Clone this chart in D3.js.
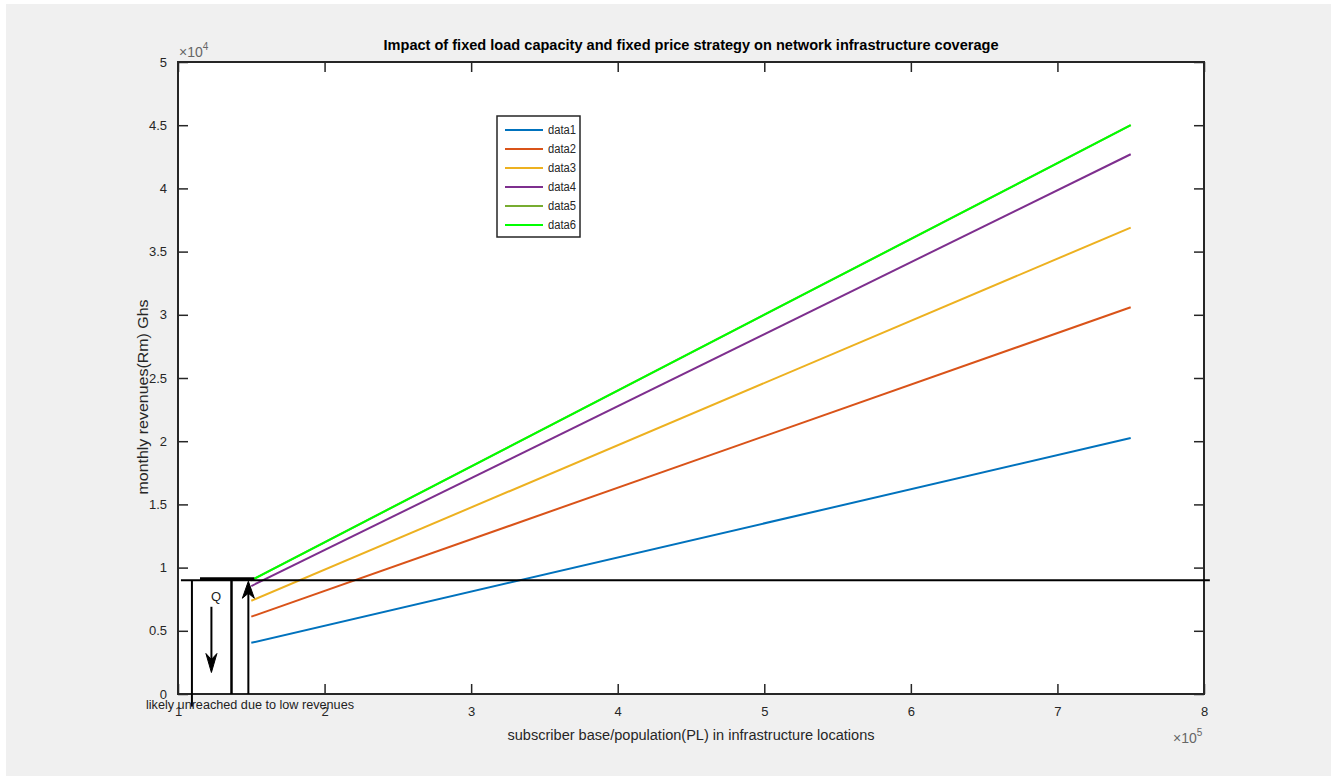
<!DOCTYPE html>
<html>
<head>
<meta charset="utf-8">
<script src="https://cdn.jsdelivr.net/npm/d3@7"></script>
<style>
  body { margin: 0; background: #fff; }
  text { font-family: "Liberation Sans", Arial, sans-serif; }
</style>
</head>
<body>
<div></div>
<script>
var width = 1337,
    height = 776;

// subscriber base PL (x) and revenues Rm (y) per series
var pl = [150000, 750000];
var data1 = [4050, 20250];
var data2 = [6120, 30600];
var data3 = [7380, 36900];
var data4 = [8540, 42700];
var data5 = [9000, 45000];
var data6 = [9000, 45000];
var seriesNames = ["data1", "data2", "data3", "data4", "data5", "data6"];
var seriesColors = ["#0072BD", "#D95319", "#EDB120", "#7E2F8E", "#77AC30", "#00FF00"];
var xTicks = [100000, 200000, 300000, 400000, 500000, 600000, 700000, 800000];
var yTicks = [0, 5000, 10000, 15000, 20000, 25000, 30000, 35000, 40000, 45000, 50000];
var threshold = 9000;

var series = [data1, data2, data3, data4, data5, data6];

var svg = d3.select("div")
    .append("svg")
    .attr("width", width)
    .attr("height", height);

// gray figure background
svg.append("rect")
    .attr("x", 6).attr("y", 4)
    .attr("width", 1325).attr("height", 772)
    .attr("fill", "#f0f0f0");

var x = d3.scaleLinear().domain([100000, 800000]).range([178, 1204]);
var y = d3.scaleLinear().domain([0, 50000]).range([694, 62]);

svg.append("rect")
    .attr("x", x(100000)).attr("y", y(50000))
    .attr("width", x(800000) - x(100000))
    .attr("height", y(0) - y(50000))
    .attr("fill", "#fff");

var axisColor = "#262626";

function styleAxis(g, hideText) {
    g.select(".domain").remove();
    g.selectAll("line").attr("stroke", axisColor).attr("stroke-width", 1.5);
    g.selectAll("text")
        .attr("fill", hideText ? "none" : axisColor)
        .style("font-size", "13px");
}

svg.append("g")
    .attr("transform", "translate(0," + y(0) + ")")
    .call(d3.axisBottom(x).tickValues(xTicks).tickSize(-10).tickPadding(13)
        .tickFormat(function (d) { return d / 100000; }))
    .call(styleAxis, false);
svg.append("g")
    .attr("transform", "translate(0," + y(50000) + ")")
    .call(d3.axisTop(x).tickValues(xTicks).tickSize(-10).tickFormat(""))
    .call(styleAxis, true);
svg.append("g")
    .attr("transform", "translate(" + x(100000) + ",0)")
    .call(d3.axisLeft(y).tickValues(yTicks).tickSize(-10).tickPadding(11)
        .tickFormat(function (d) { return d / 10000; }))
    .call(styleAxis, false);
svg.append("g")
    .attr("transform", "translate(" + x(800000) + ",0)")
    .call(d3.axisRight(y).tickValues(yTicks).tickSize(-10).tickFormat(""))
    .call(styleAxis, true);

// box
svg.append("rect")
    .attr("x", x(100000)).attr("y", y(50000))
    .attr("width", x(800000) - x(100000))
    .attr("height", y(0) - y(50000))
    .attr("fill", "none")
    .attr("stroke", axisColor)
    .attr("stroke-width", 2);

// exponent labels
var e4 = svg.append("text").attr("x", 179).attr("y", 57).attr("fill", "#666").style("font-size", "14px");
e4.append("tspan").text("\u00d7");
e4.append("tspan").text("10");
e4.append("tspan").attr("dy", -7).style("font-size", "10px").text("4");
var e5 = svg.append("text").attr("x", 1173).attr("y", 743).attr("fill", "#666").style("font-size", "14px");
e5.append("tspan").text("\u00d7");
e5.append("tspan").text("10");
e5.append("tspan").attr("dy", -7).style("font-size", "10px").text("5");

var line = d3.line()
    .x(function (d, i) { return x(pl[i]); })
    .y(function (d) { return y(d); });

svg.selectAll("path.series")
    .data(series)
    .enter()
    .append("path")
    .attr("class", "series")
    .attr("d", line)
    .attr("fill", "none")
    .attr("stroke", function (d, i) { return seriesColors[i]; })
    .attr("stroke-width", 2);

// annotations
var ink = "#000";
svg.append("line")
    .attr("x1", x(102000)).attr("x2", x(804000))
    .attr("y1", y(threshold)).attr("y2", y(threshold))
    .attr("stroke", ink).attr("stroke-width", 2);
svg.append("line")
    .attr("x1", x(115000)).attr("x2", x(152000))
    .attr("y1", y(9100)).attr("y2", y(9100))
    .attr("stroke", ink).attr("stroke-width", 3.5);
svg.append("line")
    .attr("x1", x(109500)).attr("x2", x(109500))
    .attr("y1", y(threshold)).attr("y2", y(-1000))
    .attr("stroke", ink).attr("stroke-width", 2);
svg.append("line")
    .attr("x1", x(136500)).attr("x2", x(136500))
    .attr("y1", y(threshold)).attr("y2", y(0))
    .attr("stroke", ink).attr("stroke-width", 2.5);
svg.append("line")
    .attr("x1", x(148000)).attr("x2", x(148000))
    .attr("y1", y(0)).attr("y2", y(8300))
    .attr("stroke", ink).attr("stroke-width", 2);
// up arrow head
var ax = x(148000), at = y(9000) + 1;
svg.append("path")
    .attr("d", "M" + (ax - 6) + "," + (at + 17) + "L" + ax + "," + at + "L" + (ax + 6) + "," + (at + 17) + "L" + ax + "," + (at + 12) + "Z")
    .attr("fill", ink).attr("stroke", ink).attr("stroke-width", 1);
// down arrow
var dx = x(122800);
svg.append("line")
    .attr("x1", dx).attr("x2", dx)
    .attr("y1", y(6900)).attr("y2", y(2200))
    .attr("stroke", ink).attr("stroke-width", 2);
var dt = y(1700);
svg.append("path")
    .attr("d", "M" + (dx - 5.5) + "," + (dt - 19) + "L" + dx + "," + dt + "L" + (dx + 5.5) + "," + (dt - 19) + "L" + dx + "," + (dt - 13) + "Z")
    .attr("fill", ink).attr("stroke", ink).attr("stroke-width", 1);
svg.append("text")
    .attr("x", x(126000)).attr("y", y(7700))
    .attr("text-anchor", "middle")
    .attr("dy", "0.35em")
    .attr("fill", "#222")
    .style("font-size", "13px")
    .text("Q");
svg.append("text")
    .attr("x", 146).attr("y", 709)
    .attr("fill", "#222")
    .style("font-size", "12px")
    .attr("textLength", 208).attr("lengthAdjust", "spacingAndGlyphs")
    .text("likely unreached due to low revenues");

// title and axis labels
svg.append("text")
    .attr("x", 691).attr("y", 50)
    .attr("text-anchor", "middle")
    .attr("fill", "#000")
    .style("font-size", "14px").style("font-weight", "bold")
    .attr("textLength", 615).attr("lengthAdjust", "spacingAndGlyphs")
    .text("Impact of fixed load capacity and fixed price strategy on network infrastructure coverage");
svg.append("text")
    .attr("x", 691).attr("y", 740)
    .attr("text-anchor", "middle")
    .attr("fill", "#262626")
    .style("font-size", "14px")
    .attr("textLength", 367).attr("lengthAdjust", "spacingAndGlyphs")
    .text("subscriber base/population(PL) in infrastructure locations");
svg.append("text")
    .attr("transform", "translate(148,397) rotate(-90)")
    .attr("text-anchor", "middle")
    .attr("fill", "#262626")
    .style("font-size", "15px")
    .attr("textLength", 195).attr("lengthAdjust", "spacingAndGlyphs")
    .text("monthly revenues(Rm) Ghs");

// legend
var legend = svg.append("g").attr("transform", "translate(497,116)");
legend.append("rect")
    .attr("width", 83).attr("height", 121)
    .attr("fill", "#fff")
    .attr("stroke", "#262626").attr("stroke-width", 1.5);
var items = legend.selectAll("g.item")
    .data(seriesNames)
    .enter()
    .append("g")
    .attr("class", "item")
    .attr("transform", function (d, i) { return "translate(0," + (14 + i * 19) + ")"; });
items.append("line")
    .attr("x1", 8).attr("x2", 46)
    .attr("stroke", function (d, i) { return seriesColors[i]; })
    .attr("stroke-width", 2);
items.append("text")
    .attr("x", 51).attr("dy", "0.35em")
    .attr("fill", "#262626")
    .style("font-size", "12px")
    .attr("textLength", 28).attr("lengthAdjust", "spacingAndGlyphs")
    .text(function (d) { return d; });
</script>
</body>
</html>
